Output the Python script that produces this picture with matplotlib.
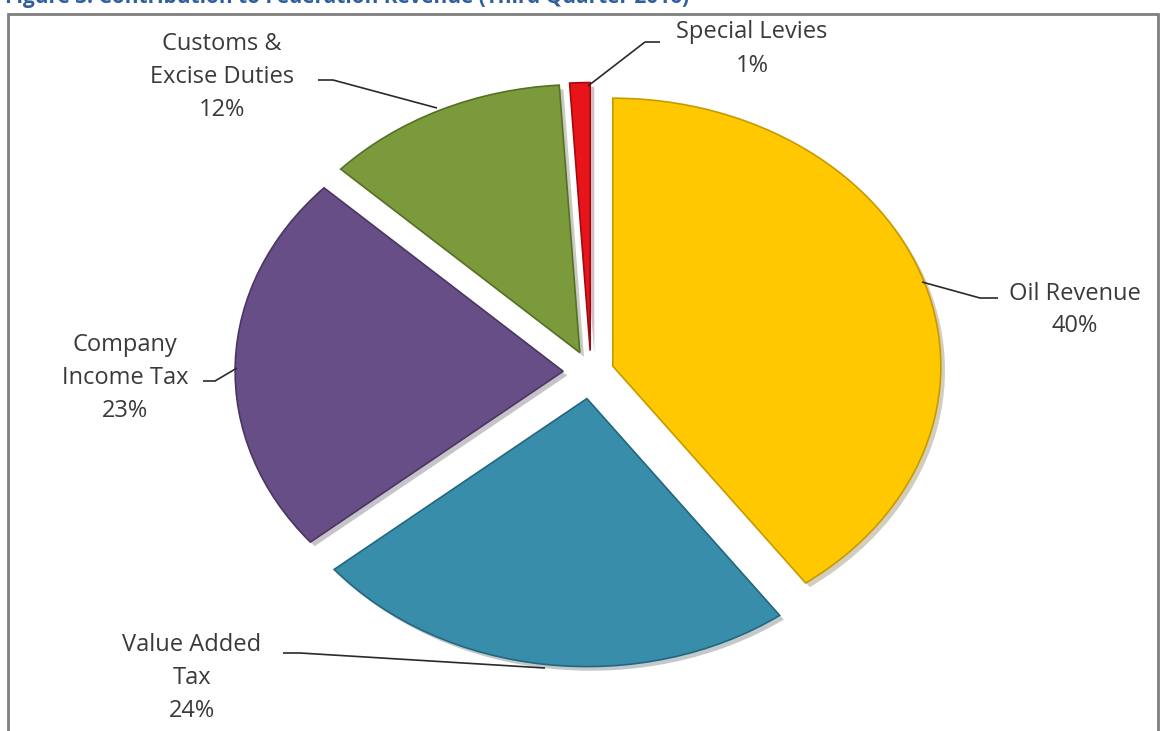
import matplotlib
matplotlib.use("Agg")
import matplotlib.pyplot as plt
from matplotlib.patches import Rectangle
import matplotlib.patheffects as pe

categories = ["Oil Revenue", "Value Added\nTax", "Company\nIncome Tax", "Customs &\nExcise Duties", "Special Levies"]
values = [40, 24, 23, 12, 1]
colors = ["#FFC800", "#388EAA", "#674E86", "#7B9A3C", "#E8141A"]
edges = ["#C89A00", "#23677E", "#4A3662", "#567024", "#A00A0E"]
explode = [0.07, 0.1, 0.085, 0.08, 0.08]

W, H = 1161, 731
fig = plt.figure(figsize=(W / 100, H / 100), dpi=100)
ax = fig.add_axes([0, 0, 1, 1])

# pixel geometry of the (horizontally stretched) pie
cx, cy = 591, 372
rx, ry = 328, 268

def px(x, y):
    return ((x - cx) / rx, (cy - y) / ry)

wedges, _ = ax.pie(values, colors=colors, startangle=90, counterclock=False,
                   explode=explode, radius=1,
                   wedgeprops=dict(linewidth=1.2))
for w, ec in zip(wedges, edges):
    w.set_edgecolor(ec)
    w.set_path_effects([pe.SimplePatchShadow(offset=(3, -3), alpha=0.25), pe.Normal()])
ax.set_aspect("auto")
ax.set_xlim(-cx / rx, (W - cx) / rx)
ax.set_ylim(-(H - cy) / ry, cy / ry)
ax.axis("off")

fs = 17
tcol = "#3A3A3A"
pcts = [f"{v}%" for v in values]

# label text centres (pixels) and leader lines
label_pos = [(1075, 310), (192, 678), (125, 378), (222, 77), (752, 49)]
leaders = [
    [(998, 298), (980, 298), (922, 282)],
    [(283, 653), (300, 653), (545, 668)],
    [(203, 381), (215, 381), (237, 368)],
    [(318, 80), (333, 80), (437, 108)],
    [(660, 42), (645, 42), (588, 86)],
]
for cat, pct, (lx, ly), pts in zip(categories, pcts, label_pos, leaders):
    x, y = px(lx, ly)
    ax.text(x, y, cat + "\n" + pct, ha="center", va="center", fontsize=fs,
            family="Open Sans", color=tcol, linespacing=1.5)
    xs, ys = zip(*[px(a, b) for a, b in pts])
    ax.plot(xs, ys, color="#2A2A2A", lw=1.2, solid_capstyle="butt")

# frame
fig.patches.append(Rectangle((8 / W, -0.01), (1158 - 8) / W, 1 - 14 / H + 0.01,
                             transform=fig.transFigure, fill=False,
                             edgecolor="#7F7F7F", lw=2))

# title, cut off at the top edge as in the reference
fig.text(5 / W, 1 - 3 / H, "Figure 3: Contribution to Federation Revenue (Third Quarter 2016)",
         ha="left", va="baseline", fontsize=15, fontweight="bold", color="#2F5FA0",
         family="Open Sans")

fig.savefig("out.png", dpi=100, facecolor="white")
